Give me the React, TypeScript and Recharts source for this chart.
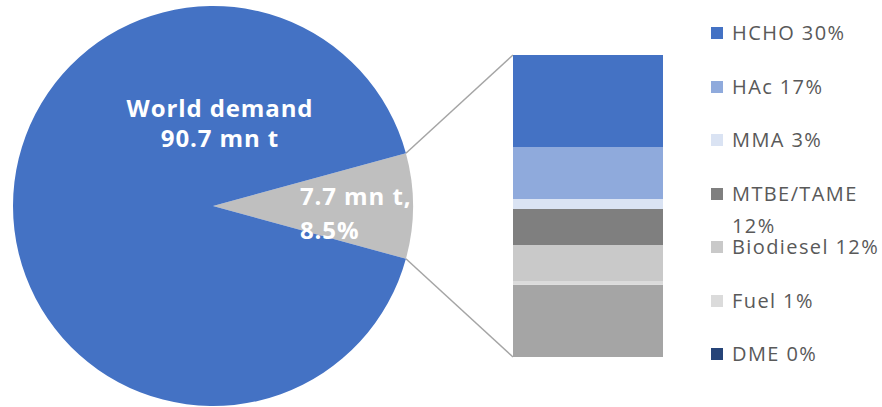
import React from "react";
import { PieChart, Pie, Cell, BarChart, Bar, XAxis, YAxis } from "recharts";

// ---- data ----
const pieNames = ["Methanol", "Other uses"];
const pieValues = [8.5, 91.5];
const pieColors = ["#BFBFBF", "#4472C4"];
const pieLabelLines = [
  ["7.7 mn t,", "8.5%"],
  ["World demand", "90.7 mn t"],
];

const barKeys = ["other", "dme", "fuel", "biodiesel", "mtbe", "mma", "hac", "hcho"];
const barValues = [23.9, 0, 1.3, 11.9, 11.9, 3.3, 17.2, 30.5];
const barColors = ["#A5A5A5", "#264478", "#DBDBDB", "#C9C9C9", "#7F7F7F", "#DAE3F3", "#8FAADC", "#4472C4"];

const legendLabels = ["HCHO 30%", "HAc 17%", "MMA 3%", "MTBE/TAME 12%", "Biodiesel 12%", "Fuel 1%", "DME 0%"];
const legendColors = ["#4472C4", "#8FAADC", "#DAE3F3", "#7F7F7F", "#C9C9C9", "#DBDBDB", "#264478"];

const pieData = pieNames.map((n, i) => ({ name: n, value: pieValues[i] }));
const barRow: Record<string, number | string> = { name: "breakdown" };
barKeys.forEach((k, i) => (barRow[k] = barValues[i]));
const barData = [barRow];

// ---- layout ----
const W = 882;
const H = 407;
const CX = 213;
const CY = 206;
const R = 200;
const BAR_X = 513;
const BAR_Y = 55;
const BAR_W = 150;
const BAR_H = 302;
const FONT = "'Open Sans', 'Noto Sans', sans-serif";

const total = pieValues.reduce((a, b) => a + b, 0);
const halfAngle = (pieValues[0] / total) * 180;

const renderLabel = (props: any) => {
  const { cx, cy, index } = props;
  const lines = pieLabelLines[index];
  const common = { fill: "#fff", fontWeight: 700, fontSize: 24, fontFamily: FONT, letterSpacing: 0.9 };
  if (index === 0) {
    return (
      <text x={cx + 87} y={cy - 1} textAnchor="start" {...common}>
        <tspan x={cx + 87} y={cy - 1}>{lines[0]}</tspan>
        <tspan x={cx + 87} y={cy + 33}>{lines[1]}</tspan>
      </text>
    );
  }
  return (
    <text x={cx + 7} y={cy - 89} textAnchor="middle" {...common}>
      <tspan x={cx + 7} y={cy - 89}>{lines[0]}</tspan>
      <tspan x={cx + 7} y={cy - 59}>{lines[1]}</tspan>
    </text>
  );
};

const rad = (halfAngle * Math.PI) / 180;
const p1 = { x: CX + R * Math.cos(rad), y: CY - R * Math.sin(rad) };
const p2 = { x: CX + R * Math.cos(rad), y: CY + R * Math.sin(rad) };

export default function App() {
  return (
    <div style={{ position: "absolute", left: 0, top: 0, width: W, height: H, background: "#fff", fontFamily: FONT }}>
      <svg width={W} height={H} style={{ position: "absolute", left: 0, top: 0 }}>
        <line x1={p1.x} y1={p1.y} x2={BAR_X} y2={BAR_Y} stroke="#A5A5A5" strokeWidth={1.5} />
        <line x1={p2.x} y1={p2.y} x2={BAR_X} y2={BAR_Y + BAR_H} stroke="#A5A5A5" strokeWidth={1.5} />
      </svg>
      <div style={{ position: "absolute", left: 0, top: 0 }}>
        <PieChart width={W} height={H} margin={{ top: 0, right: 0, bottom: 0, left: 0 }}>
          <Pie
            data={pieData}
            dataKey="value"
            nameKey="name"
            cx={CX}
            cy={CY}
            outerRadius={R}
            startAngle={-halfAngle}
            endAngle={360 - halfAngle}
            stroke="none"
            label={renderLabel}
            labelLine={false}
            isAnimationActive={false}
          >
            {pieData.map((d, i) => (
              <Cell key={d.name} fill={pieColors[i]} />
            ))}
          </Pie>
        </PieChart>
      </div>
      <div style={{ position: "absolute", left: BAR_X, top: BAR_Y }}>
        <BarChart width={BAR_W} height={BAR_H} data={barData} margin={{ top: 0, right: 0, bottom: 0, left: 0 }} barCategoryGap={0}>
          <XAxis dataKey="name" hide />
          <YAxis hide domain={[0, 100]} />
          {barKeys.map((k, i) => (
            <Bar key={k} dataKey={k} stackId="a" fill={barColors[i]} isAnimationActive={false} />
          ))}
        </BarChart>
      </div>
      {legendLabels.map((lab, i) => (
        <div
          key={lab}
          style={{
            position: "absolute",
            left: 711,
            top: 33 + i * 53.5 - 16,
            width: 171,
            display: "flex",
            alignItems: "flex-start",
          }}
        >
          <div style={{ width: 12, height: 12, marginTop: 10, background: legendColors[i], flex: "0 0 auto" }} />
          <div style={{ marginLeft: 9, width: 150, fontSize: 20, lineHeight: "32px", color: "#595959", letterSpacing: 1.4 }}>
            {lab}
          </div>
        </div>
      ))}
    </div>
  );
}
